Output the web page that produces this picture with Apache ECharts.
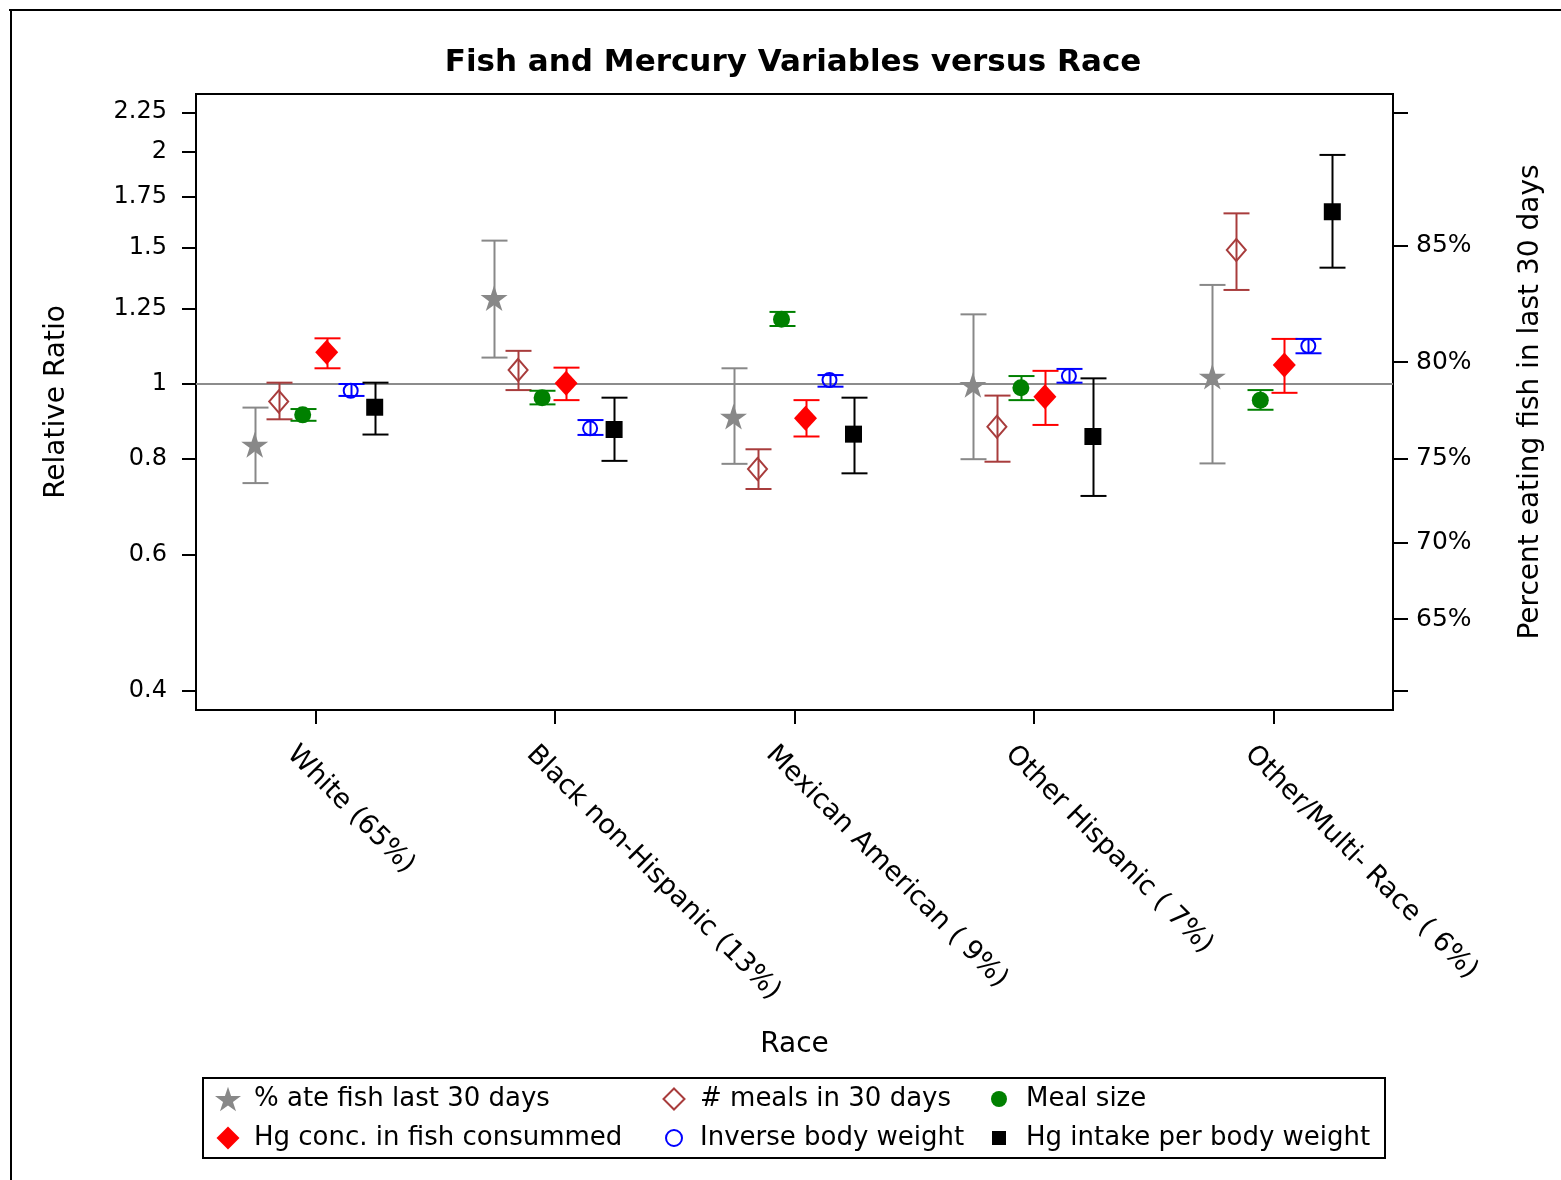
<!DOCTYPE html>
<html>
<head>
<meta charset="utf-8">
<script src="https://cdn.jsdelivr.net/npm/echarts@6/dist/echarts.min.js"></script>
<style>
html,body{margin:0;padding:0;background:#fff;}
#chart{width:1561px;height:1180px;}
</style>
</head>
<body>
<div id="chart"></div>
<script>
// ---------------- DATA ----------------
const categories = ['White (65%)', 'Black non-Hispanic (13%)', 'Mexican American ( 9%)', 'Other Hispanic ( 7%)', 'Other/Multi- Race ( 6%)'];
const seriesNames = ['% ate fish last 30 days', '# meals in 30 days', 'Meal size', 'Hg conc. in fish consummed', 'Inverse body weight', 'Hg intake per body weight'];

const ateFish      = [0.834, 1.292, 0.907, 0.997, 1.022];
const ateFishLow   = [0.744, 1.082, 0.788, 0.799, 0.789];
const ateFishHigh  = [0.932, 1.534, 1.048, 1.231, 1.344];

const meals        = [0.949, 1.043, 0.776, 0.880, 1.492];
const mealsLow     = [0.900, 0.982, 0.731, 0.793, 1.324];
const mealsHigh    = [1.004, 1.104, 0.823, 0.966, 1.664];

const mealSize     = [0.912, 0.960, 1.213, 0.989, 0.953];
const mealSizeLow  = [0.896, 0.941, 1.189, 0.953, 0.926];
const mealSizeHigh = [0.928, 0.980, 1.240, 1.024, 0.982];

const hgConc       = [1.099, 1.002, 0.903, 0.963, 1.058];
const hgConcLow    = [1.048, 0.953, 0.855, 0.885, 0.974];
const hgConcHigh   = [1.146, 1.050, 0.953, 1.040, 1.144];

const invWeight     = [0.980, 0.876, 1.012, 1.024, 1.120];
const invWeightLow  = [0.965, 0.859, 0.992, 1.004, 1.096];
const invWeightHigh = [1.000, 0.898, 1.027, 1.046, 1.144];

const hgIntake     = [0.933, 0.873, 0.861, 0.855, 1.672];
const hgIntakeLow  = [0.860, 0.795, 0.766, 0.716, 1.415];
const hgIntakeHigh = [1.004, 0.960, 0.960, 1.017, 1.981];

const leftTicks = [0.4, 0.6, 0.8, 1, 1.25, 1.5, 1.75, 2, 2.25];
const rightPctTicks = [65, 70, 75, 80, 85];
const refPct = 78.93;          // percent that corresponds to ratio 1 on the right (odds) axis
const refLine = 1;

// ---------------- STYLE ----------------
const STAR = 'path://M50,0 L61.23,34.55 L97.55,34.55 L68.17,55.9 L79.39,90.45 L50,69.1 L20.61,90.45 L31.83,55.9 L2.45,34.55 L38.77,34.55 Z';
const STYLE = [
  {symbol: STAR,      size: 27,       color: '#888888', hollow: false, dx: -61, legend: {cx: 228, cy: 1098, s: 26, tx: 254}},
  {symbol: 'diamond', size: [19, 22], color: '#a83c3c', hollow: true,  dx: -37, legend: {cx: 673, cy: 1098, s: 21, tx: 699}},
  {symbol: 'circle',  size: 17,       color: '#008000', hollow: false, dx: -13, legend: {cx: 999, cy: 1098, s: 16, tx: 1026}},
  {symbol: 'diamond', size: [23, 25], color: '#ff0000', hollow: false, dx: 11,  legend: {cx: 228, cy: 1137, s: 23, tx: 254}},
  {symbol: 'circle',  size: 14,       color: '#0000ff', hollow: true,  dx: 35,  legend: {cx: 673, cy: 1137, s: 16, tx: 699}},
  {symbol: 'rect',    size: 17,       color: '#000000', hollow: false, dx: 59,  legend: {cx: 999, cy: 1137, s: 14, tx: 1026}}
];
const FONT = 'DejaVu Sans';
const TEXT_COLOR = '#000';
const CAP_HALF = 13;
const Y_MIN = 0.378, Y_MAX = 2.376;

const mids  = [ateFish, meals, mealSize, hgConc, invWeight, hgIntake];
const lows  = [ateFishLow, mealsLow, mealSizeLow, hgConcLow, invWeightLow, hgIntakeLow];
const highs = [ateFishHigh, mealsHigh, mealSizeHigh, hgConcHigh, invWeightHigh, hgIntakeHigh];

const refOdds = refPct / (100 - refPct);
const pctToRatio = p => (p / (100 - p)) / refOdds;
const rightLabelValues = rightPctTicks.map(pctToRatio);
const rightTickValues = [leftTicks[leftTicks.length - 1]].concat(rightLabelValues, [leftTicks[0]]);

// ---------------- SERIES ----------------
const series = [];
seriesNames.forEach((name, k) => {
  const st = STYLE[k];
  series.push({
    name: name,
    type: 'scatter',
    xAxisIndex: 0, yAxisIndex: 0,
    data: mids[k],
    symbol: st.symbol,
    symbolSize: st.size,
    symbolKeepAspect: true,
    symbolOffset: [st.dx, 0],
    z: 10,
    silent: true,
    itemStyle: st.hollow
      ? {color: 'rgba(0,0,0,0)', borderColor: st.color, borderWidth: 2, opacity: 1}
      : {color: st.color, opacity: 1}
  });
});
seriesNames.forEach((name, k) => {
  const st = STYLE[k];
  const s = {
    name: name,
    type: 'custom',
    xAxisIndex: 0, yAxisIndex: 0,
    z: 6,
    silent: true,
    data: categories.map((c, i) => [i, mids[k][i], lows[k][i], highs[k][i]]),
    encode: {x: 0, y: [1, 2, 3]},
    renderItem: function (params, api) {
      const i = api.value(0);
      const pLo = api.coord([i, api.value(2)]);
      const pHi = api.coord([i, api.value(3)]);
      const cx = Math.round(pLo[0] + st.dx) + 0.5;
      const style = {stroke: st.color, lineWidth: 2, fill: null};
      return {
        type: 'group',
        children: [
          {type: 'line', shape: {x1: cx, y1: pHi[1], x2: cx, y2: pLo[1]}, style: style},
          {type: 'line', shape: {x1: cx - CAP_HALF, y1: pHi[1], x2: cx + CAP_HALF, y2: pHi[1]}, style: style},
          {type: 'line', shape: {x1: cx - CAP_HALF, y1: pLo[1], x2: cx + CAP_HALF, y2: pLo[1]}, style: style}
        ]
      };
    }
  };
  if (k === 0) {
    s.markLine = {
      silent: true,
      symbol: 'none',
      label: {show: false},
      lineStyle: {color: '#8c8c8c', width: 2, type: 'solid'},
      data: [{yAxis: refLine}],
      animation: false
    };
  }
  series.push(s);
});

// ---------------- LEGENDS ----------------
const TEXT_H = 26;
const legends = seriesNames.map((name, k) => {
  const L = STYLE[k].legend;
  return {
    data: [name],
    left: L.cx - L.s / 2,
    top: L.cy + 1 - Math.max(L.s, TEXT_H) / 2,
    itemWidth: L.s,
    itemHeight: L.s,
    padding: 0,
    selectedMode: false,
    textStyle: {fontFamily: FONT, fontSize: 26, color: TEXT_COLOR, padding: [0, 0, 0, L.tx - L.cx - L.s / 2 - 5]}
  };
});

const option = {
  backgroundColor: '#ffffff',
  animation: false,
  title: {
    text: 'Fish and Mercury Variables versus Race',
    left: 793, top: 47, textAlign: 'center', padding: 0,
    textStyle: {fontFamily: FONT, fontWeight: 'bold', fontSize: 31, color: '#000'}
  },
  grid: {
    left: 196, right: 168, top: 94, bottom: 470,
    containLabel: false, outerBoundsMode: 'none',
    show: true, borderColor: '#000', borderWidth: 2, backgroundColor: 'transparent'
  },
  legend: legends,
  xAxis: {
    type: 'category',
    data: categories,
    boundaryGap: true,
    name: 'Race', nameLocation: 'middle', nameGap: 321,
    nameTextStyle: {fontFamily: FONT, fontSize: 28, color: TEXT_COLOR},
    axisLine: {show: true, lineStyle: {color: '#000', width: 2}},
    axisTick: {show: true, alignWithLabel: true, length: 14, lineStyle: {color: '#000', width: 2}},
    splitLine: {show: false},
    axisLabel: {
      interval: 0, rotate: -45, margin: 16, align: 'left', verticalAlign: 'top',
      padding: [21, 0, 0, 0],
      fontFamily: FONT, fontSize: 27, color: TEXT_COLOR
    }
  },
  yAxis: [
    {
      type: 'log', logBase: 10, min: Y_MIN, max: Y_MAX,
      position: 'left',
      name: 'Relative Ratio', nameLocation: 'middle', nameRotate: 90, nameGap: 125,
      nameTextStyle: {fontFamily: FONT, fontSize: 28, color: TEXT_COLOR},
      axisLine: {show: true, lineStyle: {color: '#000', width: 2}},
      axisTick: {show: true, length: 14, customValues: leftTicks, lineStyle: {color: '#000', width: 2}},
      minorTick: {show: false},
      splitLine: {show: false},
      axisLabel: {
        customValues: leftTicks, margin: 29,
        fontFamily: FONT, fontSize: 24, color: TEXT_COLOR,
        formatter: v => String(parseFloat(v.toFixed(2)))
      }
    },
    {
      type: 'log', logBase: 10, min: Y_MIN, max: Y_MAX,
      position: 'right',
      name: 'Percent eating fish in last 30 days', nameLocation: 'middle', nameRotate: 90, nameGap: 124,
      nameTextStyle: {fontFamily: FONT, fontSize: 28, color: TEXT_COLOR},
      axisLine: {show: true, lineStyle: {color: '#000', width: 2}},
      axisTick: {show: true, length: 15, customValues: rightTickValues, lineStyle: {color: '#000', width: 2}},
      minorTick: {show: false},
      splitLine: {show: false},
      axisLabel: {
        customValues: rightLabelValues, margin: 23,
        fontFamily: FONT, fontSize: 25, color: TEXT_COLOR,
        formatter: v => { const o = v * refOdds; return Math.round(100 * o / (1 + o)) + '%'; }
      }
    }
  ],
  graphic: [
    {type: 'line', silent: true, shape: {x1: 9, y1: 10, x2: 1561, y2: 10}, style: {stroke: '#000', lineWidth: 2}},
    {type: 'line', silent: true, shape: {x1: 11, y1: 10, x2: 11, y2: 1180}, style: {stroke: '#000', lineWidth: 2}},
    {type: 'rect', silent: true, shape: {x: 203, y: 1078, width: 1182, height: 80}, style: {stroke: '#000', lineWidth: 2, fill: null}}
  ],
  series: series
};

const chart = echarts.init(document.getElementById('chart'), null, {renderer: 'canvas', width: 1561, height: 1180});
chart.setOption(option);
</script>
</body>
</html>
